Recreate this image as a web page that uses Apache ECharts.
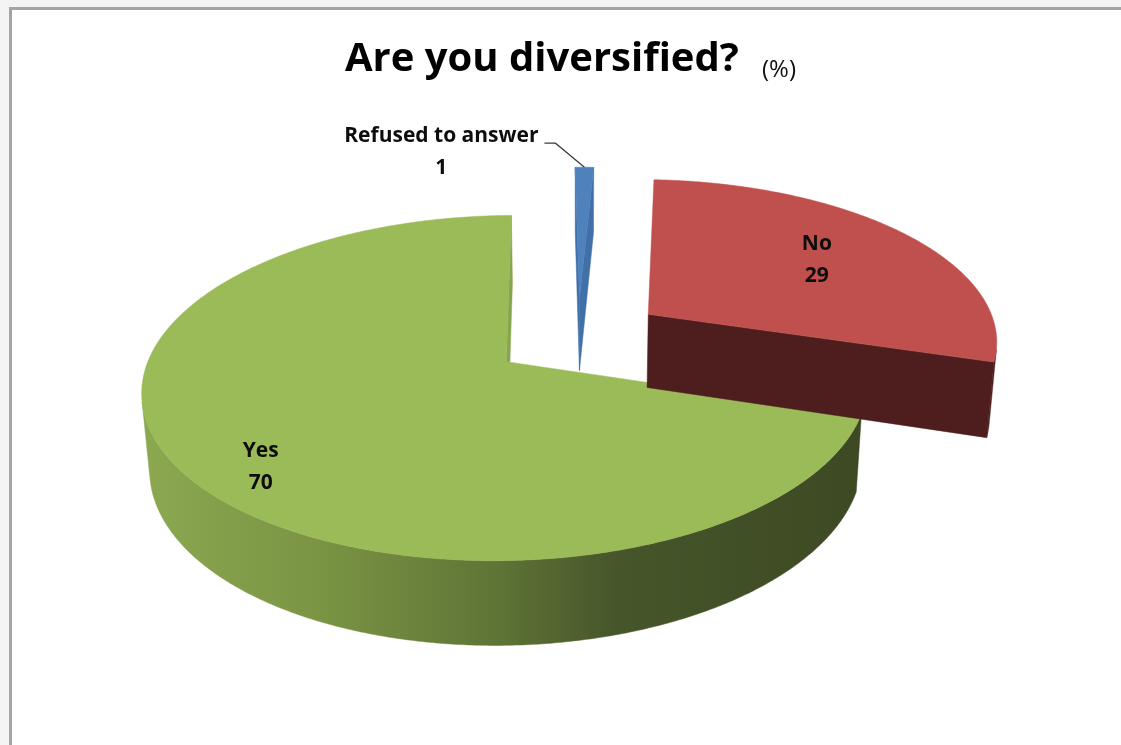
<!DOCTYPE html>
<html><head><meta charset="utf-8">
<script src="https://cdn.jsdelivr.net/npm/echarts@6/dist/echarts.min.js"></script>
<style>html,body{margin:0;padding:0;background:#f4f4f4;overflow:hidden}#c{width:1121px;height:745px}</style>
</head><body><div id="c"></div>
<script>
// ---- data ----
const categories = ['No', 'Yes', 'Refused to answer'];
const values = [29, 70, 1];
const titleText = 'Are you diversified?';
const unitText = '(%)';

// ---- styles ----
const topColors = ['#C0504D', '#9BBB59', '#4F81BD'];
const faceColors = ['#4E1E1E', '#88A44E', '#4170A8'];
const wallColors = ['#4E1E1E', null, '#3A659A'];
const greenWallStops = [
  {offset: 0, color: '#8CA850'}, {offset: 0.25, color: '#7A9444'},
  {offset: 0.5, color: '#5E7335'}, {offset: 0.66, color: '#46562A'},
  {offset: 1, color: '#3D4923'}];
const FONT = '"Open Sans", Lato, sans-serif';
const VIEW = {cx: 578, cy: 337, fx: 2100, fy: 2160, D: 5.993, tanE: 0.5,
  h: 0.2344, explode: 0.25, startDeg: 2.8};
const labelCfg = [{r: 0.646, shift: 0}, {r: 0.834, shift: -6.4}, {outside: true}];

const RAD = Math.PI / 180;
const cosE = 1 / Math.sqrt(1 + VIEW.tanE * VIEW.tanE);
const sinE = VIEW.tanE * cosE;
function project(X, Y, Z) {
  const depth = VIEW.D - Y * sinE + Z * cosE;
  const up = Y * cosE + Z * sinE;
  return [VIEW.cx + VIEW.fx * X / depth, VIEW.cy - VIEW.fy * up / depth];
}
const camZ = -VIEW.D * cosE;

function measure(text, font) {
  const ctx = document.createElement('canvas').getContext('2d');
  ctx.font = font;
  return ctx.measureText(text).width;
}

const chart = echarts.init(document.getElementById('c'), null, {renderer: 'canvas'});

function renderItem(params, api) {
  const i = params.dataIndex;
  const total = values.reduce((a, b) => a + b, 0);
  let acc = 0;
  for (let k = 0; k < i; k++) acc += values[k];
  const v = api.value(0);
  const a0 = VIEW.startDeg + acc / total * 360;
  const a1 = a0 + v / total * 360;
  const mid = (a0 + a1) / 2 * RAD;
  const ox = VIEW.explode * Math.sin(mid), oz = VIEW.explode * Math.cos(mid);
  const h = VIEW.h;
  const rank = Math.round((2 - oz) * 10);
  const base = (40 - rank) * 10;
  const rimPt = (deg, Y, r) => {
    const t = deg * RAD; r = r == null ? 1 : r;
    return project(ox + r * Math.sin(t), Y, oz + r * Math.cos(t));
  };
  const children = [];
  const n = Math.max(2, Math.ceil((a1 - a0) / 0.5));
  const degs = [];
  for (let k = 0; k <= n; k++) degs.push(a0 + (a1 - a0) * k / n);

  const visible = (deg) => {
    const t = deg * RAD;
    const px = ox + Math.sin(t), pz = oz + Math.cos(t);
    return Math.sin(t) * (-px) + Math.cos(t) * (camZ - pz) > 0;
  };
  let run = null;
  const runs = [];
  for (let k = 0; k < n; k++) {
    const m = (degs[k] + degs[k + 1]) / 2;
    if (visible(m)) {
      if (!run) { run = [degs[k]]; runs.push(run); }
      run.push(degs[k + 1]);
    } else run = null;
  }
  runs.forEach(r => {
    const pts = r.map(d => rimPt(d, 0)).concat(r.slice().reverse().map(d => rimPt(d, -h)));
    let fill = wallColors[i];
    if (!fill) fill = new echarts.graphic.LinearGradient(0, 0, 1, 0, greenWallStops);
    children.push({type: 'polygon', shape: {points: pts}, style: {fill: fill, stroke: fill, lineWidth: 0.5}, z2: base + 1});
  });

  const faces = [[a0, -1], [a1, 1]];
  faces.forEach(([deg, sgn]) => {
    const t = deg * RAD;
    const nx = sgn * Math.cos(t), nz = -sgn * Math.sin(t);
    if (nx * (-ox) + nz * (camZ - oz) > 0) {
      const pts = [project(ox, 0, oz), rimPt(deg, 0), rimPt(deg, -h), project(ox, -h, oz)];
      children.push({type: 'polygon', shape: {points: pts}, style: {fill: faceColors[i], stroke: faceColors[i], lineWidth: 0.5}, z2: base + 2});
    }
  });

  const topPts = [project(ox, 0, oz)].concat(degs.map(d => rimPt(d, 0)));
  children.push({type: 'polygon', shape: {points: topPts}, style: {fill: topColors[i], stroke: topColors[i], lineWidth: 0.5}, z2: base + 5});

  const name = categories[i];
  const cfg = labelCfg[i];
  const font = 'bold 21px ' + FONT;
  if (!cfg.outside) {
    const p = rimPt((a0 + a1) / 2 + cfg.shift, 0, cfg.r);
    children.push({type: 'text', x: p[0], y: p[1], style: {text: name + '\n' + v, font: font, fill: '#0d0d0d', align: 'center', verticalAlign: 'middle', lineHeight: 32}, z2: 1000});
  } else {
    const p = rimPt((a0 + a1) / 2, 0, 1);
    const elbow = [p[0] - 29, p[1] - 24];
    const end = [elbow[0] - 11, elbow[1]];
    children.push({type: 'polyline', shape: {points: [p, elbow, end]}, style: {stroke: '#3a3a3a', lineWidth: 1.2, fill: null}, z2: 1000});
    const w = measure(name, font);
    children.push({type: 'text', x: end[0] - 6 - w / 2, y: end[1] + 9, style: {text: name + '\n' + v, font: font, fill: '#0d0d0d', align: 'center', verticalAlign: 'middle', lineHeight: 32}, z2: 1000});
  }
  return {type: 'group', children: children};
}

chart.setOption({
  backgroundColor: '#f4f4f4',
  animation: false,
  graphic: [
    {type: 'rect', shape: {x: 10.5, y: 8.5, width: 1300, height: 900}, style: {fill: '#ffffff', stroke: '#a4a4a4', lineWidth: 3}, z: -10, silent: true},
    {type: 'text', x: 345, y: 60, style: {text: titleText, font: 'bold 40px ' + FONT, fill: '#000', align: 'left', verticalAlign: 'middle'}},
    {type: 'text', x: 762, y: 70, style: {text: unitText, font: '24px ' + FONT, fill: '#111', align: 'left', verticalAlign: 'middle'}}
  ],
  series: [{
    type: 'custom',
    coordinateSystem: 'none',
    renderItem: renderItem,
    data: categories.map((c, k) => ({name: c, value: [values[k]]}))
  }]
});
</script></body></html>
